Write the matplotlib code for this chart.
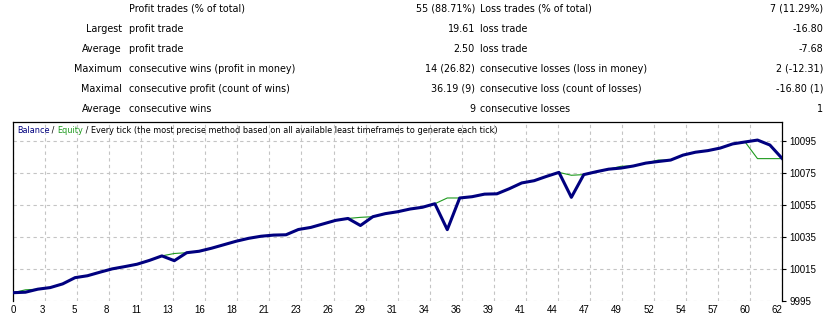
import numpy as np
import matplotlib.pyplot as plt

# report table
row_left = ["", "Largest", "Average", "Maximum", "Maximal", "Average"]
row_name1 = ["Profit trades (% of total)", "profit trade", "profit trade",
             "consecutive wins (profit in money)", "consecutive profit (count of wins)",
             "consecutive wins"]
row_val1 = ["55 (88.71%)", "19.61", "2.50", "14 (26.82)", "36.19 (9)", "9"]
row_name2 = ["Loss trades (% of total)", "loss trade", "loss trade",
             "consecutive losses (loss in money)", "consecutive loss (count of losses)",
             "consecutive losses"]
row_val2 = ["7 (11.29%)", "-16.80", "-7.68", "2 (-12.31)", "-16.80 (1)", "1"]

# balance / equity per trade
balance = [10000.0, 10000.3, 10002.2, 10003.2, 10005.5, 10009.4, 10010.6, 10012.8,
           10014.9, 10016.3, 10017.8, 10020.2, 10023.0, 10020.0, 10025.0, 10025.9,
           10027.8, 10030.0, 10032.2, 10034.0, 10035.3, 10036.0, 10036.2, 10039.5,
           10040.8, 10043.0, 10045.2, 10046.4, 10042.0, 10047.5, 10049.4, 10050.6,
           10052.3, 10053.4, 10055.6, 10039.4, 10059.2, 10060.0, 10061.6, 10061.8,
           10065.0, 10068.6, 10070.0, 10072.7, 10075.2, 10059.6, 10073.8, 10075.6,
           10077.2, 10077.9, 10079.2, 10081.0, 10082.0, 10082.9, 10086.0, 10087.8,
           10088.8, 10090.4, 10093.0, 10094.2, 10095.4, 10092.3, 10083.8]
equity = [10000.0, 10001.8, 10002.2, 10003.2, 10005.5, 10009.4, 10010.6, 10012.8,
          10014.9, 10016.3, 10017.8, 10020.2, 10023.0, 10024.5, 10025.0, 10025.9,
          10027.8, 10030.0, 10032.2, 10034.0, 10035.3, 10036.0, 10036.2, 10039.5,
          10040.8, 10043.0, 10045.2, 10046.4, 10047.1, 10047.5, 10049.4, 10050.6,
          10052.3, 10053.4, 10055.6, 10059.2, 10059.2, 10060.0, 10061.6, 10061.8,
          10065.0, 10068.6, 10070.0, 10072.7, 10075.2, 10073.4, 10073.8, 10075.6,
          10077.2, 10079.0, 10079.3, 10081.0, 10082.9, 10082.9, 10086.0, 10087.8,
          10088.8, 10090.4, 10093.0, 10094.2, 10083.8, 10083.8, 10083.8]
xlabels = ["0", "3", "5", "8", "11", "13", "16", "18", "21", "23", "26", "29", "31",
           "34", "36", "39", "41", "44", "47", "49", "52", "54", "57", "60", "62"]
yticks = [9995, 10015, 10035, 10055, 10075, 10095]

W, H = 830, 314
plt.rcParams['font.family'] = ['DejaVu Sans']
fs = 6.9
fig = plt.figure(figsize=(W / 100, H / 100), dpi=100)

for r in range(len(row_left)):
    y = 1 - (8.5 + 20 * r) / H
    fig.text(121.5 / W, y, row_left[r], ha='right', va='center', fontsize=fs)
    fig.text(128.5 / W, y, row_name1[r], ha='left', va='center', fontsize=fs)
    fig.text(475 / W, y, row_val1[r], ha='right', va='center', fontsize=fs)
    fig.text(480 / W, y, row_name2[r], ha='left', va='center', fontsize=fs)
    fig.text(823 / W, y, row_val2[r], ha='right', va='center', fontsize=fs)

ax = fig.add_axes([13 / W, (H - 300.7) / H, (782.3 - 13) / W, (300.7 - 122) / H])
x = np.arange(len(balance))
ax.plot(x, equity, color='#1e9a1e', lw=0.8, zorder=3)
ax.plot(x, balance, color='#00007f', lw=2.2, zorder=4)

n = len(balance) - 1
ax.set_xlim(0, n)
ax.set_ylim(9995, 9995 + (300.7 - 122) / 1.6)
xpos = np.linspace(0, n, len(xlabels))
ax.set_xticks(xpos, xlabels)
for i, lab in enumerate(ax.get_xticklabels()):
    lab.set_ha('center' if i == 0 else 'right')
    lab.set_family('Liberation Sans')
ax.yaxis.tick_right()
ax.set_yticks(yticks, [str(v) for v in yticks])
for lab in ax.get_yticklabels():
    lab.set_family('Liberation Sans')
ax.tick_params(axis='both', labelsize=7, colors='black', length=3, width=0.8, pad=2)
ax.tick_params(axis='x', length=0, pad=3)
ax.grid(True, color='#c4c4c4', linestyle=(0, (3, 3)), linewidth=0.8)
for s in ['left', 'right', 'top']:
    ax.spines[s].set_color('black')
    ax.spines[s].set_linewidth(0.9)
ax.spines['bottom'].set_visible(False)

# title inside the chart
tfs = 5.85
tx = ax.text(0.005, 0.955, "Balance", color='#00007f', fontsize=tfs, transform=ax.transAxes, va='center')
parts = [(" / ", 'black'), ("Equity", '#1e9a1e'),
         (" / Every tick (the most precise method based on all available least timeframes to generate each tick)", 'black')]
fig.canvas.draw()
for txt, col in parts:
    tx = ax.annotate(txt, xycoords=tx, xy=(1, 0), va='bottom', color=col, fontsize=tfs)
    fig.canvas.draw()

fig.savefig('out.png', dpi=100, facecolor='white')
